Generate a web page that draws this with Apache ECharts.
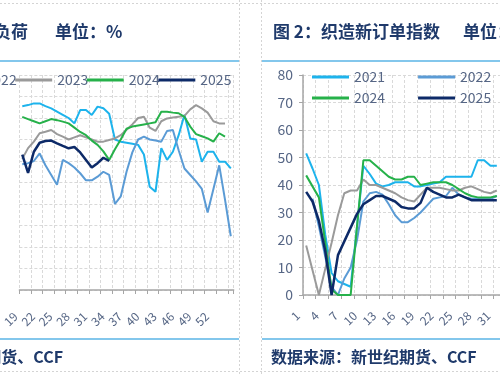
<!DOCTYPE html>
<html>
<head>
<meta charset="utf-8">
<script src="https://cdn.jsdelivr.net/npm/echarts@6/dist/echarts.min.js"></script>
<style>
html, body { margin: 0; padding: 0; background: #fff; }
#main { width: 500px; height: 375px; }
</style>
</head>
<body>
<div id="main"></div>
<script>
// 图1 织造开工负荷（左图，只露出第17周以后）
var loadWeeks = ['17', '18', '19', '20', '21', '22', '23', '24', '25', '26', '27', '28', '29', '30', '31', '32', '33', '34', '35',
  '36', '37', '38', '39', '40', '41', '42', '43', '44', '45', '46', '47', '48', '49', '50', '51', '52', '53']
var load2021 = [85.5, 86, 86.8, 86.8, 85.5, 84.5, 83, 81.5, 80, 77.5, 83.7, 83.7, 81.4, 85.3, 84.5, 82, 70, 69, 68.5,
  68, 67.5, 63, 48, 45.7, 66, 60.5, 64.3, 72, 81.5, 70.5, 70, 59.7, 64.3, 64.3, 59.7, 59.7, 56.6]
var load2022 = [58.5, 59, 60, 63.5, 58, 53.5, 49, 60.5, 59, 57, 54.3, 51, 51, 52.7, 55, 53.5, 40, 43.5, 55,
  64, 70, 71.3, 70, 69.5, 69, 74, 74.4, 65, 56.5, 53.5, 50.5, 47, 36, 47, 58, 42, 25]
var load2023 = [61, 66, 69, 72.9, 73.6, 74.4, 72.5, 71.3, 70, 71, 72, 71, 70, 69, 69, 69.8, 70.5, 72, 74.5,
  77, 80, 80.6, 75.5, 74, 78.5, 79.8, 80.2, 80.6, 81, 84, 86, 84.5, 82.5, 78.5, 77.5, 77.5, null]
var load2024 = [80.5, 79.5, 78.5, 77.5, 78.5, 79.5, 79, 78.3, 77.5, 75.5, 73.5, 72, 69.5, 67.5, 64.5, 60.5, 65.5, 70, 75,
  76, 76.5, 77, 77.5, 78, 82.9, 82.9, 82.5, 82.2, 80.5, 76, 72.5, 71.5, 70.5, 69, 72.9, 71.3, null]
var load2025 = [63, 54.5, 64.3, 68.5, 69.3, 69.5, 68.2, 67, 65.9, 66.5, 64, 60.5, 57, 59, 61.5, 60]

// 图2 织造新订单指数（右图）
var orderWeeks = ['1', '2', '3', '4', '5', '6', '7', '8', '9', '10', '11', '12', '13', '14', '15', '16',
  '17', '18', '19', '20', '21', '22', '23', '24', '25', '26', '27', '28', '29', '30', '31']
var order2021 = [51.5, 46, 40, 22, 8, 5, 4, 3, 25, 47, 44, 40.5, 39.5, 40, 41, 41,
  41, 39.5, 39.5, 40, 40.5, 41, 43, 43, 43, 43, 43, 49, 49, 47, 47]
var order2022 = [null, 35, 25, 14, 3, 0, 6, 10, 20, 34, 37, 37.5, 36.5, 33, 29, 26.5,
  26.5, 28, 30, 32.5, 35, 35.5, 36, 39, 36.5, 35.5, 35, 35, 35, 35, 36]
var order2023 = [18, 9, 0, 9.5, 19, 29, 37, 38, 38, 42, 40, 40, 39, 38, 37, 35.5,
  34.5, 34, 36.5, 39, 39, 39, 38.5, 38, 38, 39, 39.5, 38.5, 37.5, 37, 38]
var order2024 = [43.5, 39.5, 35.5, 19, 2, 0, 0, 0, 25, 49, 49, 47, 45, 43, 42, 42,
  43, 43, 40, 40.5, 41, 41, 41, 40, 38.5, 37, 36, 35.5, 35.5, 35.5, 36]
var order2025 = [37.5, 34, 27, 16, 0, 14.5, 19.5, 24.5, 29.5, 33, 34.5, 36, 36, 35, 34, 32,
  31.5, 31.5, 33.5, 39, 37.5, 36.5, 35.5, 35.5, 36.5, 35.5, 34.5, 34.5, 34.5, 34.5, 34.5]

var years = ['2021', '2022', '2023', '2024', '2025']
var yearColors = ['#1db3ec', '#5b9bd5', '#9a9a9a', '#26b14a', '#0d2a68']

var cjk = '"Noto Sans CJK SC", "Noto Sans", sans-serif'
var axisGray = '#a6a6a6'
var gridGray = '#d9d9d9'
var labelColor = '#566685'
var titleColor = '#1f3a6b'
var ruleBlue = '#5ab4e6'

var chartDom = document.getElementById('main')
var myChart = echarts.init(chartDom)

function lineSeries (name, data, xi, color, width) {
  return {
    name: name,
    type: 'line',
    xAxisIndex: xi,
    yAxisIndex: xi,
    data: data,
    symbol: 'none',
    connectNulls: false,
    lineStyle: { color: color, width: width },
    itemStyle: { color: color }
  }
}

function legendBox (data, left, top, gap) {
  return {
    data: data,
    left: left,
    top: top,
    width: 420,
    padding: 0,
    icon: 'rect',
    itemWidth: 37,
    itemHeight: 3,
    itemGap: gap,
    selectedMode: false,
    textStyle: { fontSize: 14, color: labelColor, fontFamily: cjk, lineHeight: 16 }
  }
}

function catAxis (grid, data, labelFn, pad, margin) {
  return {
    type: 'category',
    gridIndex: grid,
    data: data,
    boundaryGap: true,
    axisLine: { lineStyle: { color: axisGray, width: 1.5 } },
    axisTick: { show: true, interval: 1, length: 4, lineStyle: { color: axisGray } },
    axisLabel: {
      interval: labelFn,
      rotate: 45,
      margin: margin,
      padding: [0, pad, 0, 0],
      fontSize: 12,
      color: labelColor,
      fontFamily: cjk
    },
    splitLine: { show: true, interval: 1, lineStyle: { color: gridGray, type: [3, 2] } }
  }
}

var option = {
  animation: false,
  backgroundColor: '#fff',
  grid: [
    { left: -6.8, top: 75, width: 240.5, height: 215 },
    { left: 303, top: 75, width: 200, height: 220 }
  ],
  legend: [
    legendBox(years, -128, 72, -1.5),
    legendBox(['2021', '2022', '2023'], 312, 69, 33),
    legendBox(['2024', '2025'], 312, 90, 33)
  ],
  xAxis: [
    catAxis(0, loadWeeks, function (i) { return i % 3 === 2 }, 26, 6),
    catAxis(1, orderWeeks, function (i) { return i % 3 === 0 }, 12, 10)
  ],
  yAxis: [
    {
      type: 'value',
      gridIndex: 0,
      min: 0,
      max: 100,
      interval: 10,
      axisLine: { show: false },
      axisTick: { show: false },
      axisLabel: { show: false },
      splitLine: { lineStyle: { color: gridGray, type: [3, 2] } }
    },
    {
      type: 'value',
      gridIndex: 1,
      min: 0,
      max: 80,
      interval: 10,
      axisLine: { show: true, lineStyle: { color: axisGray, width: 1.5 } },
      axisTick: { show: true, length: 4, lineStyle: { color: axisGray } },
      axisLabel: { margin: 10, fontSize: 14, color: labelColor, fontFamily: cjk },
      splitLine: { lineStyle: { color: gridGray, type: [3, 2] } }
    }
  ],
  series: [
    lineSeries('2021', load2021, 0, yearColors[0], 2),
    lineSeries('2022', load2022, 0, yearColors[1], 2),
    lineSeries('2023', load2023, 0, yearColors[2], 2),
    lineSeries('2024', load2024, 0, yearColors[3], 2),
    lineSeries('2025', load2025, 0, yearColors[4], 2.5),
    lineSeries('2021', order2021, 1, yearColors[0], 2),
    lineSeries('2022', order2022, 1, yearColors[1], 2),
    lineSeries('2023', order2023, 1, yearColors[2], 2),
    lineSeries('2024', order2024, 1, yearColors[3], 2),
    lineSeries('2025', order2025, 1, yearColors[4], 2.5)
  ],
  graphic: [
    // 虚线外框
    { type: 'line', shape: { x1: 0, y1: 3.5, x2: 500, y2: 3.5 }, style: { stroke: '#d4d4d4', lineDash: [2, 2], lineWidth: 1 } },
    { type: 'line', shape: { x1: 0, y1: 371.5, x2: 500, y2: 371.5 }, style: { stroke: '#d4d4d4', lineDash: [2, 2], lineWidth: 1 } },
    { type: 'line', shape: { x1: 239.5, y1: 0, x2: 239.5, y2: 375 }, style: { stroke: '#d4d4d4', lineDash: [2, 2], lineWidth: 1 } },
    { type: 'line', shape: { x1: 261.5, y1: 0, x2: 261.5, y2: 375 }, style: { stroke: '#d4d4d4', lineDash: [2, 2], lineWidth: 1 } },
    // 蓝色分隔线
    { type: 'line', shape: { x1: 0, y1: 61, x2: 239, y2: 61 }, style: { stroke: ruleBlue, lineWidth: 1.5 } },
    { type: 'line', shape: { x1: 262, y1: 61, x2: 500, y2: 61 }, style: { stroke: ruleBlue, lineWidth: 1.5 } },
    { type: 'line', shape: { x1: 0, y1: 339, x2: 239, y2: 339 }, style: { stroke: ruleBlue, lineWidth: 1.5 } },
    { type: 'line', shape: { x1: 262, y1: 339, x2: 500, y2: 339 }, style: { stroke: ruleBlue, lineWidth: 1.5 } },
    // 标题与来源
    { type: 'text', x: 28, y: 32, style: { text: '图 1：织造开工负荷', align: 'right', verticalAlign: 'middle', fill: titleColor, font: 'bold 17px ' + cjk } },
    { type: 'text', x: 55, y: 32, style: { text: '单位：%', verticalAlign: 'middle', fill: titleColor, font: 'bold 17px ' + cjk } },
    { type: 'text', x: 273, y: 32, style: { text: '图 2：织造新订单指数', verticalAlign: 'middle', fill: titleColor, font: 'bold 17px ' + cjk } },
    { type: 'text', x: 463, y: 32, style: { text: '单位：%', verticalAlign: 'middle', fill: titleColor, font: 'bold 17px ' + cjk } },
    { type: 'text', x: 63, y: 357, style: { text: '数据来源：新世纪期货、CCF', align: 'right', verticalAlign: 'middle', fill: titleColor, font: 'bold 16px ' + cjk } },
    { type: 'text', x: 271, y: 357, style: { text: '数据来源：新世纪期货、CCF', verticalAlign: 'middle', fill: titleColor, font: 'bold 16px ' + cjk } }
  ]
}

option && myChart.setOption(option)
</script>
</body>
</html>
